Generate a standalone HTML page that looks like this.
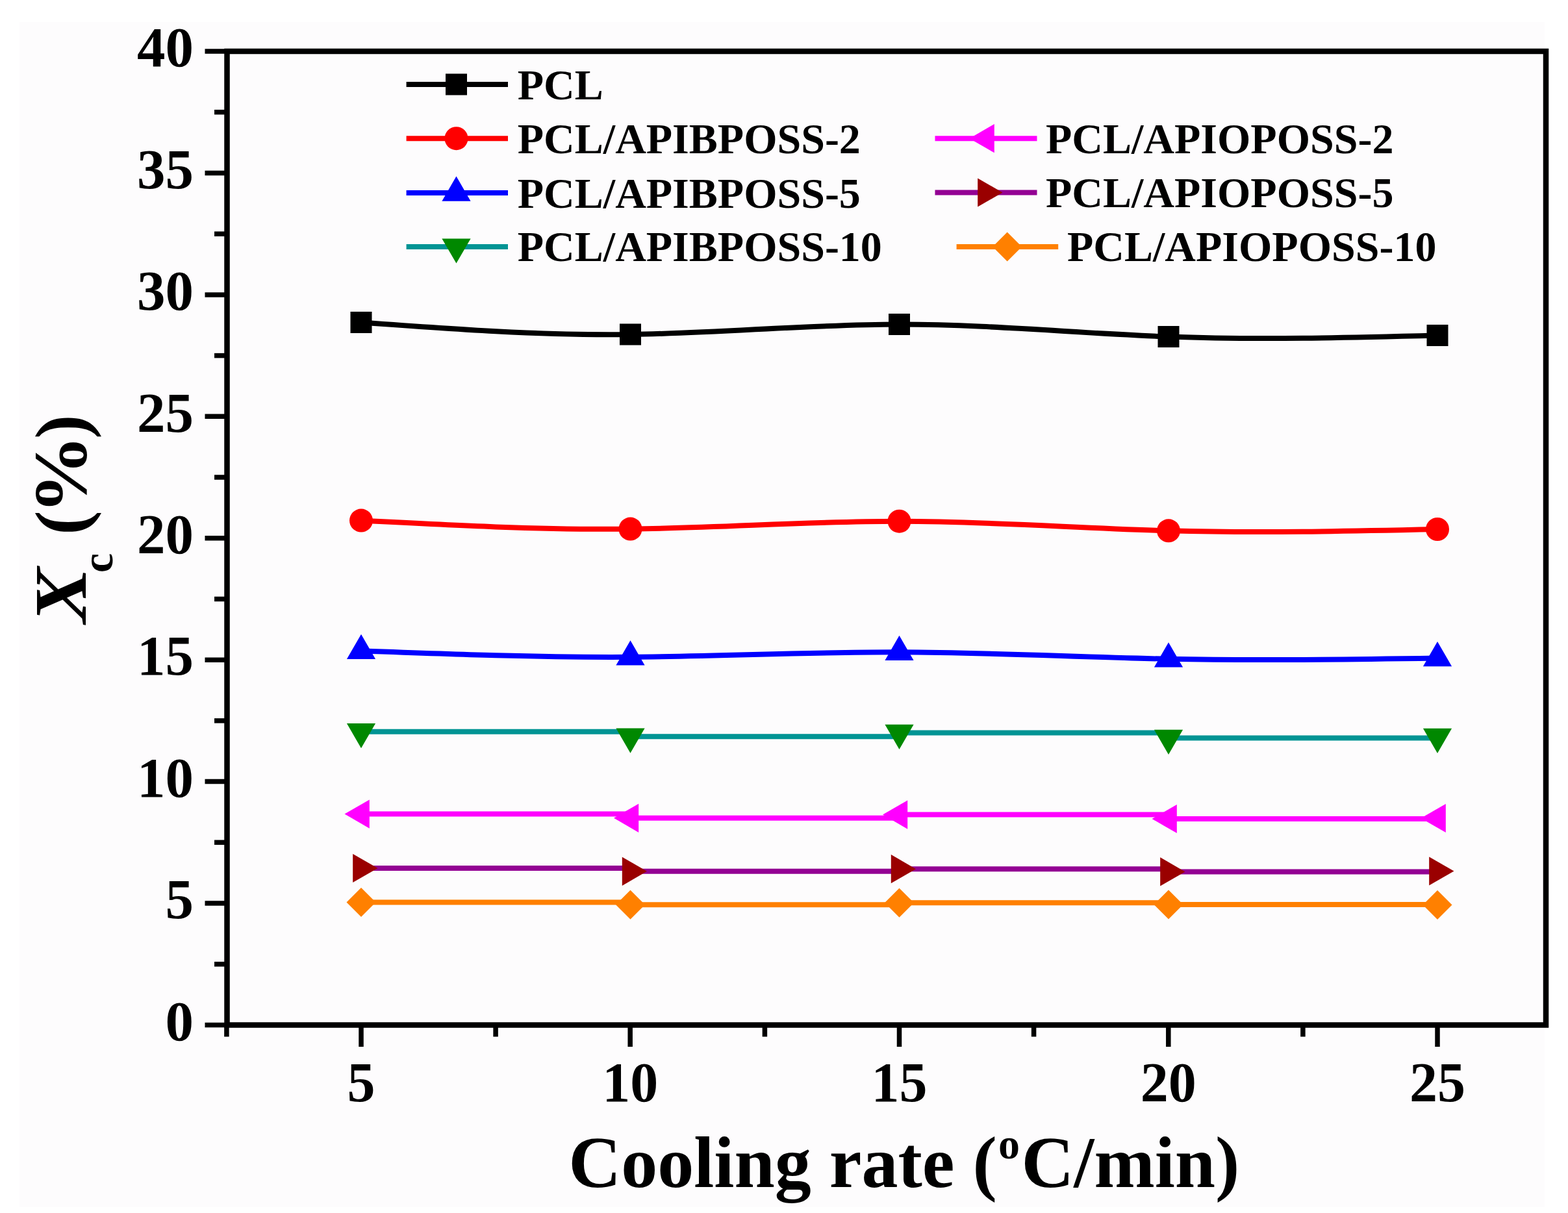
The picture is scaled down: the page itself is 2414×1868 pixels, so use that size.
<!DOCTYPE html>
<html><head><meta charset="utf-8"><title>Xc vs cooling rate</title>
<style>
html,body{margin:0;padding:0;background:#fff;}
body{width:2414px;height:1868px;overflow:hidden;}
svg{display:block;}
text{font-family:"Liberation Serif","Times New Roman",serif;font-weight:bold;fill:#000;}
</style></head><body>
<svg width="2414" height="1868" viewBox="0 0 2414 1868">
<rect width="2414" height="1868" fill="#fff"/>
<rect x="30" y="34" width="2348" height="1825" fill="#fdfcfd"/>

<path d="M556.0,496.50 C694.2,506.65 832.3,516.81 970.5,515.00 C1108.5,513.20 1246.5,499.46 1384.5,499.50 C1522.7,499.54 1660.8,513.37 1799.0,518.50 C1937.0,523.62 2075.0,520.06 2213.0,516.50" fill="none" stroke="#000000" stroke-width="8.0" stroke-linejoin="round"/>
<path d="M556.0,801.60 C694.2,808.89 832.3,816.18 970.5,814.60 C1108.5,813.02 1246.5,802.59 1384.5,802.70 C1522.7,802.81 1660.8,813.49 1799.0,817.30 C1937.0,821.10 2075.0,818.05 2213.0,815.00" fill="none" stroke="#ff0000" stroke-width="8.0" stroke-linejoin="round"/>
<path d="M556.0,1002.30 C694.2,1007.49 832.3,1012.67 970.5,1011.80 C1108.5,1010.93 1246.5,1004.02 1384.5,1004.30 C1522.7,1004.58 1660.8,1012.08 1799.0,1014.80 C1937.0,1017.51 2075.0,1015.46 2213.0,1013.40" fill="none" stroke="#0000ff" stroke-width="8.0" stroke-linejoin="round"/>
<path d="M556.0,1126.7 H970.5 V1134.2 H1384.5 V1128.5 H1799.0 V1136.5 H2213.0 V1134.5" fill="none" stroke="#009494" stroke-width="8.0" stroke-linejoin="round"/>
<path d="M556.0,1253.6 H970.5 V1259.8 H1384.5 V1254.6 H1799.0 V1261.0 H2213.0 V1260.0" fill="none" stroke="#ff00ff" stroke-width="8.0" stroke-linejoin="round"/>
<path d="M556.0,1337.0 H970.5 V1341.8 H1384.5 V1338.2 H1799.0 V1342.4 H2213.0 V1341.5" fill="none" stroke="#930093" stroke-width="8.0" stroke-linejoin="round"/>
<path d="M556.0,1389.5 H970.5 V1393.2 H1384.5 V1390.2 H1799.0 V1393.0 H2213.0 V1393.5" fill="none" stroke="#ff8000" stroke-width="8.0" stroke-linejoin="round"/>
<rect x="539.5" y="480.0" width="33.0" height="33.0" fill="#000000"/>
<rect x="954.0" y="498.5" width="33.0" height="33.0" fill="#000000"/>
<rect x="1368.0" y="483.0" width="33.0" height="33.0" fill="#000000"/>
<rect x="1782.5" y="502.0" width="33.0" height="33.0" fill="#000000"/>
<rect x="2196.5" y="500.0" width="33.0" height="33.0" fill="#000000"/>
<circle cx="556.0" cy="801.6" r="18.0" fill="#ff0000"/>
<circle cx="970.5" cy="814.6" r="18.0" fill="#ff0000"/>
<circle cx="1384.5" cy="802.7" r="18.0" fill="#ff0000"/>
<circle cx="1799.0" cy="817.3" r="18.0" fill="#ff0000"/>
<circle cx="2213.0" cy="815.0" r="18.0" fill="#ff0000"/>
<polygon points="556.0,976.8 578.1,1015.0 533.9,1015.0" fill="#0000ff"/>
<polygon points="970.5,986.3 992.6,1024.5 948.4,1024.5" fill="#0000ff"/>
<polygon points="1384.5,978.8 1406.6,1017.0 1362.4,1017.0" fill="#0000ff"/>
<polygon points="1799.0,989.3 1821.1,1027.5 1776.9,1027.5" fill="#0000ff"/>
<polygon points="2213.0,987.9 2235.1,1026.2 2190.9,1026.2" fill="#0000ff"/>
<polygon points="556.0,1152.2 578.1,1114.0 533.9,1114.0" fill="#008800"/>
<polygon points="970.5,1159.7 992.6,1121.5 948.4,1121.5" fill="#008800"/>
<polygon points="1384.5,1154.0 1406.6,1115.8 1362.4,1115.8" fill="#008800"/>
<polygon points="1799.0,1162.0 1821.1,1123.8 1776.9,1123.8" fill="#008800"/>
<polygon points="2213.0,1160.0 2235.1,1121.8 2190.9,1121.8" fill="#008800"/>
<polygon points="530.5,1253.6 568.8,1231.5 568.8,1275.7" fill="#ff00ff"/>
<polygon points="945.0,1259.8 983.2,1237.7 983.2,1281.9" fill="#ff00ff"/>
<polygon points="1359.0,1254.6 1397.2,1232.5 1397.2,1276.7" fill="#ff00ff"/>
<polygon points="1773.5,1261.0 1811.8,1238.9 1811.8,1283.1" fill="#ff00ff"/>
<polygon points="2187.5,1260.0 2225.8,1237.9 2225.8,1282.1" fill="#ff00ff"/>
<polygon points="581.5,1337.0 543.2,1314.9 543.2,1359.1" fill="#9a0000"/>
<polygon points="996.0,1341.8 957.8,1319.7 957.8,1363.9" fill="#9a0000"/>
<polygon points="1410.0,1338.2 1371.8,1316.1 1371.8,1360.3" fill="#9a0000"/>
<polygon points="1824.5,1342.4 1786.2,1320.3 1786.2,1364.5" fill="#9a0000"/>
<polygon points="2238.5,1341.5 2200.2,1319.4 2200.2,1363.6" fill="#9a0000"/>
<polygon points="556.0,1367.0 578.5,1389.5 556.0,1412.0 533.5,1389.5" fill="#ff8000"/>
<polygon points="970.5,1370.7 993.0,1393.2 970.5,1415.7 948.0,1393.2" fill="#ff8000"/>
<polygon points="1384.5,1367.7 1407.0,1390.2 1384.5,1412.7 1362.0,1390.2" fill="#ff8000"/>
<polygon points="1799.0,1370.5 1821.5,1393.0 1799.0,1415.5 1776.5,1393.0" fill="#ff8000"/>
<polygon points="2213.0,1371.0 2235.5,1393.5 2213.0,1416.0 2190.5,1393.5" fill="#ff8000"/>
<rect x="349.5" y="79.0" width="2030.5" height="1499.5" fill="none" stroke="#000" stroke-width="8.5"/>
<line x1="315.5" y1="1578.5" x2="349.5" y2="1578.5" stroke="#000" stroke-width="7.5"/>
<line x1="330.0" y1="1484.8" x2="349.5" y2="1484.8" stroke="#000" stroke-width="7.5"/>
<line x1="315.5" y1="1391.1" x2="349.5" y2="1391.1" stroke="#000" stroke-width="7.5"/>
<line x1="330.0" y1="1297.3" x2="349.5" y2="1297.3" stroke="#000" stroke-width="7.5"/>
<line x1="315.5" y1="1203.6" x2="349.5" y2="1203.6" stroke="#000" stroke-width="7.5"/>
<line x1="330.0" y1="1109.9" x2="349.5" y2="1109.9" stroke="#000" stroke-width="7.5"/>
<line x1="315.5" y1="1016.2" x2="349.5" y2="1016.2" stroke="#000" stroke-width="7.5"/>
<line x1="330.0" y1="922.5" x2="349.5" y2="922.5" stroke="#000" stroke-width="7.5"/>
<line x1="315.5" y1="828.8" x2="349.5" y2="828.8" stroke="#000" stroke-width="7.5"/>
<line x1="330.0" y1="735.0" x2="349.5" y2="735.0" stroke="#000" stroke-width="7.5"/>
<line x1="315.5" y1="641.3" x2="349.5" y2="641.3" stroke="#000" stroke-width="7.5"/>
<line x1="330.0" y1="547.6" x2="349.5" y2="547.6" stroke="#000" stroke-width="7.5"/>
<line x1="315.5" y1="453.9" x2="349.5" y2="453.9" stroke="#000" stroke-width="7.5"/>
<line x1="330.0" y1="360.2" x2="349.5" y2="360.2" stroke="#000" stroke-width="7.5"/>
<line x1="315.5" y1="266.4" x2="349.5" y2="266.4" stroke="#000" stroke-width="7.5"/>
<line x1="330.0" y1="172.7" x2="349.5" y2="172.7" stroke="#000" stroke-width="7.5"/>
<line x1="315.5" y1="79.0" x2="349.5" y2="79.0" stroke="#000" stroke-width="7.5"/>
<line x1="348.9" y1="1578.5" x2="348.9" y2="1596.5" stroke="#000" stroke-width="7.5"/>
<line x1="556.0" y1="1578.5" x2="556.0" y2="1612.0" stroke="#000" stroke-width="7.5"/>
<line x1="763.1" y1="1578.5" x2="763.1" y2="1596.5" stroke="#000" stroke-width="7.5"/>
<line x1="970.2" y1="1578.5" x2="970.2" y2="1612.0" stroke="#000" stroke-width="7.5"/>
<line x1="1177.4" y1="1578.5" x2="1177.4" y2="1596.5" stroke="#000" stroke-width="7.5"/>
<line x1="1384.5" y1="1578.5" x2="1384.5" y2="1612.0" stroke="#000" stroke-width="7.5"/>
<line x1="1591.6" y1="1578.5" x2="1591.6" y2="1596.5" stroke="#000" stroke-width="7.5"/>
<line x1="1798.8" y1="1578.5" x2="1798.8" y2="1612.0" stroke="#000" stroke-width="7.5"/>
<line x1="2005.9" y1="1578.5" x2="2005.9" y2="1596.5" stroke="#000" stroke-width="7.5"/>
<line x1="2213.0" y1="1578.5" x2="2213.0" y2="1612.0" stroke="#000" stroke-width="7.5"/>
<text x="298" y="1601.7" font-size="87" text-anchor="end">0</text>
<text x="298" y="1414.3" font-size="87" text-anchor="end">5</text>
<text x="298" y="1226.8" font-size="87" text-anchor="end">10</text>
<text x="298" y="1039.4" font-size="87" text-anchor="end">15</text>
<text x="298" y="852.0" font-size="87" text-anchor="end">20</text>
<text x="298" y="664.5" font-size="87" text-anchor="end">25</text>
<text x="298" y="477.1" font-size="87" text-anchor="end">30</text>
<text x="298" y="289.6" font-size="87" text-anchor="end">35</text>
<text x="298" y="102.2" font-size="87" text-anchor="end">40</text>
<text x="556.0" y="1696" font-size="86" text-anchor="middle">5</text>
<text x="970.2" y="1696" font-size="86" text-anchor="middle">10</text>
<text x="1384.5" y="1696" font-size="86" text-anchor="middle">15</text>
<text x="1798.8" y="1696" font-size="86" text-anchor="middle">20</text>
<text x="2213.0" y="1696" font-size="86" text-anchor="middle">25</text>
<text x="875.3" y="1828" font-size="112">Cooling rate (</text>
<text x="1537" y="1784" font-size="66">o</text>
<text x="1572.4" y="1828" font-size="112">C/min)</text>
<g transform="translate(131.6,963) rotate(-90)">
<text x="3" y="0" font-size="112" font-style="italic" transform="scale(1.15,1.03)">X</text>
<text x="81" y="41.6" font-size="68">c</text>
<text x="139.2" y="0" font-size="112">(</text>
<text x="157.2" y="0" font-size="112" transform="scale(1.089,1.04)">%</text>
<text x="287.2" y="0" font-size="112">)</text>
</g>
<line x1="625.6" y1="130.0" x2="782" y2="130.0" stroke="#000000" stroke-width="8.0"/>
<rect x="686.0" y="113.5" width="33.0" height="33.0" fill="#000000"/>
<text x="796.8" y="153.1" font-size="66">PCL</text>
<line x1="625.6" y1="213.2" x2="782" y2="213.2" stroke="#ff0000" stroke-width="8.0"/>
<circle cx="702.5" cy="213.2" r="18.0" fill="#ff0000"/>
<text x="796.8" y="235.8" font-size="66">PCL/APIBPOSS-2</text>
<line x1="625.6" y1="297.0" x2="782" y2="297.0" stroke="#0000ff" stroke-width="8.0"/>
<polygon points="702.5,271.5 724.6,309.8 680.4,309.8" fill="#0000ff"/>
<text x="796.8" y="319.8" font-size="66">PCL/APIBPOSS-5</text>
<line x1="625.6" y1="380.1" x2="782" y2="380.1" stroke="#009494" stroke-width="8.0"/>
<polygon points="702.5,405.6 724.6,367.4 680.4,367.4" fill="#008800"/>
<text x="796.8" y="402.4" font-size="66">PCL/APIBPOSS-10</text>
<line x1="1439.5" y1="213.2" x2="1596.5" y2="213.2" stroke="#ff00ff" stroke-width="8.0"/>
<polygon points="1492.5,213.2 1530.8,191.1 1530.8,235.3" fill="#ff00ff"/>
<text x="1610.0" y="235.6" font-size="66">PCL/APIOPOSS-2</text>
<line x1="1439.5" y1="296.5" x2="1596.5" y2="296.5" stroke="#930093" stroke-width="8.0"/>
<polygon points="1543.5,296.5 1505.2,274.4 1505.2,318.6" fill="#9a0000"/>
<text x="1610.0" y="319.4" font-size="66">PCL/APIOPOSS-5</text>
<line x1="1472.6" y1="380.0" x2="1629.2" y2="380.0" stroke="#ff8000" stroke-width="8.0"/>
<polygon points="1550.7,357.5 1573.2,380.0 1550.7,402.5 1528.2,380.0" fill="#ff8000"/>
<text x="1643.0" y="402.1" font-size="66">PCL/APIOPOSS-10</text>
</svg></body></html>
